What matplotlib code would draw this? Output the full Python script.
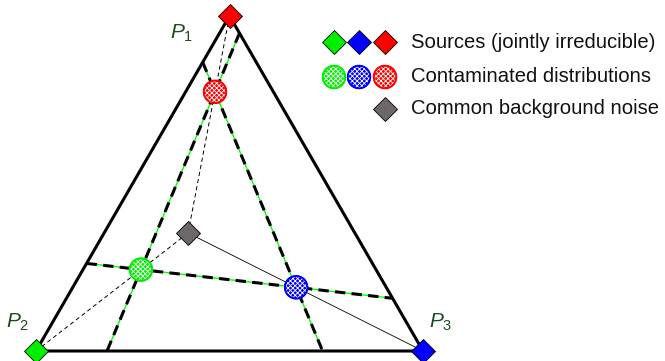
import numpy as np
import matplotlib
matplotlib.use("Agg")
import matplotlib.pyplot as plt
from matplotlib.patches import Circle

plt.rcParams['font.family'] = ['Liberation Sans', 'DejaVu Sans']
plt.rcParams['mathtext.fontset'] = 'custom'
plt.rcParams['mathtext.it'] = 'Liberation Sans:italic'
plt.rcParams['mathtext.rm'] = 'Liberation Sans'
plt.rcParams['lines.scale_dashes'] = False
plt.rcParams['hatch.linewidth'] = 0.6

# ---- data (barycentric coordinates: weights on P1, P2, P3) ----
source_names = ["P1", "P2", "P3"]
source_labels = ["$P_1$", "$P_2$", "$P_3$"]
source_colors = ["#ff0000", "#00ee00", "#0000ff"]
sources_bary = [(1.0, 0.0, 0.0), (0.0, 1.0, 0.0), (0.0, 0.0, 1.0)]
noise_bary = (0.352, 0.431, 0.217)
noise_weight = [0.35, 0.69, 0.54]   # fraction of background noise in each contaminated distribution
noise_color = "#6e6767"
legend_texts = ["Sources (jointly irreducible)", "Contaminated distributions", "Common background noise"]

S3 = np.sqrt(3) / 2


def to_xy(b):
    b = np.asarray(b, float)
    return np.array([b[2] + b[0] / 2, b[0] * S3])


def px(x, y):
    return ((x - 36) / 387.0, (351 - y) / 387.0)


fig = plt.figure(figsize=(6.65, 3.61), dpi=100)
ax = fig.add_axes([0, 0, 1, 1])
ax.set_xlim(-36 / 387, (665 - 36) / 387)
ax.set_ylim(-10 / 387, (361 - 10) / 387)
ax.axis('off')

# triangle
V = [to_xy(b) for b in sources_bary]
tri = np.array([V[0], V[1], V[2], V[0]])
ax.plot(tri[:, 0], tri[:, 1], color='black', lw=2.2, zorder=3, solid_capstyle='round')

noise_b = np.array(noise_bary)
contam_b = [(1 - w) * np.array(s) + w * noise_b for s, w in zip(sources_bary, noise_weight)]
N = to_xy(noise_b)

# source -> noise lines
for i, s in enumerate(sources_bary):
    p = to_xy(s)
    if i == 2:
        ax.plot([p[0], N[0]], [p[1], N[1]], color='black', lw=0.6, zorder=2)
    else:
        ax.plot([p[0], N[0]], [p[1], N[1]], color='black', lw=0.7, dashes=(3, 2.2), zorder=2)

# lines through pairs of contaminated points, clipped to simplex
for i, j in [(0, 1), (0, 2), (1, 2)]:
    a, b = contam_b[i], contam_b[j]
    d = b - a
    lo, hi = -np.inf, np.inf
    for k in range(3):
        if abs(d[k]) > 1e-12:
            t0 = -a[k] / d[k]
            if d[k] > 0:
                lo = max(lo, t0)
            else:
                hi = min(hi, t0)
    p0, p1 = to_xy(a + lo * d), to_xy(a + hi * d)
    ax.plot([p0[0], p1[0]], [p0[1], p1[1]], color='#00ff00', lw=1.0, zorder=2)
    ax.plot([p0[0], p1[0]], [p0[1], p1[1]], color='black', lw=2.2, dashes=(7.5, 4.5), zorder=2.1)

R = 11.5 / 387


def hatched_circle(c, col, r=R):
    ax.add_patch(Circle(c, r, facecolor=col, edgecolor=col, lw=0.8, zorder=5))
    ax.add_patch(Circle(c, r * 0.9, facecolor='none', edgecolor='white', lw=0, hatch='xxxxxxx', zorder=5.1))
    ax.add_patch(Circle(c, r, facecolor='none', edgecolor=col, lw=1.0, zorder=5.2))


for cb, col in zip(contam_b, source_colors):
    hatched_circle(to_xy(cb), col)

# noise marker
ax.plot(N[0], N[1], marker='D', ms=12.5, color=noise_color, mec='black', mew=0.6, zorder=6)

# sources
for s, col in zip(sources_bary, source_colors):
    p = to_xy(s)
    ax.plot(p[0], p[1], marker='D', ms=12.5, color=col, mec='black', mew=0.6, zorder=7, clip_on=False)

# vertex labels
lab_pos = [(182, 33), (18, 322), (441, 322)]
for lab, (x, y) in zip(source_labels, lab_pos):
    ax.text(*px(x, y), lab, color='#1f4a1f', fontsize=15, ha='center', va='center')

# legend
for x, col in zip([334, 359, 385], [source_colors[1], source_colors[2], source_colors[0]]):
    ax.plot(*px(x, 42), marker='D', ms=12.5, color=col, mec='black', mew=0.6, zorder=7)
    hatched_circle(px(x, 77), col)
ax.plot(*px(385, 109), marker='D', ms=12.5, color=noise_color, mec='black', mew=0.6, zorder=7)

for y, t in zip([42, 77, 109], legend_texts):
    ax.text(*px(411, y), t, fontsize=14.6, ha='left', va='center', color='#111111')

fig.savefig('out.png', dpi=100)
